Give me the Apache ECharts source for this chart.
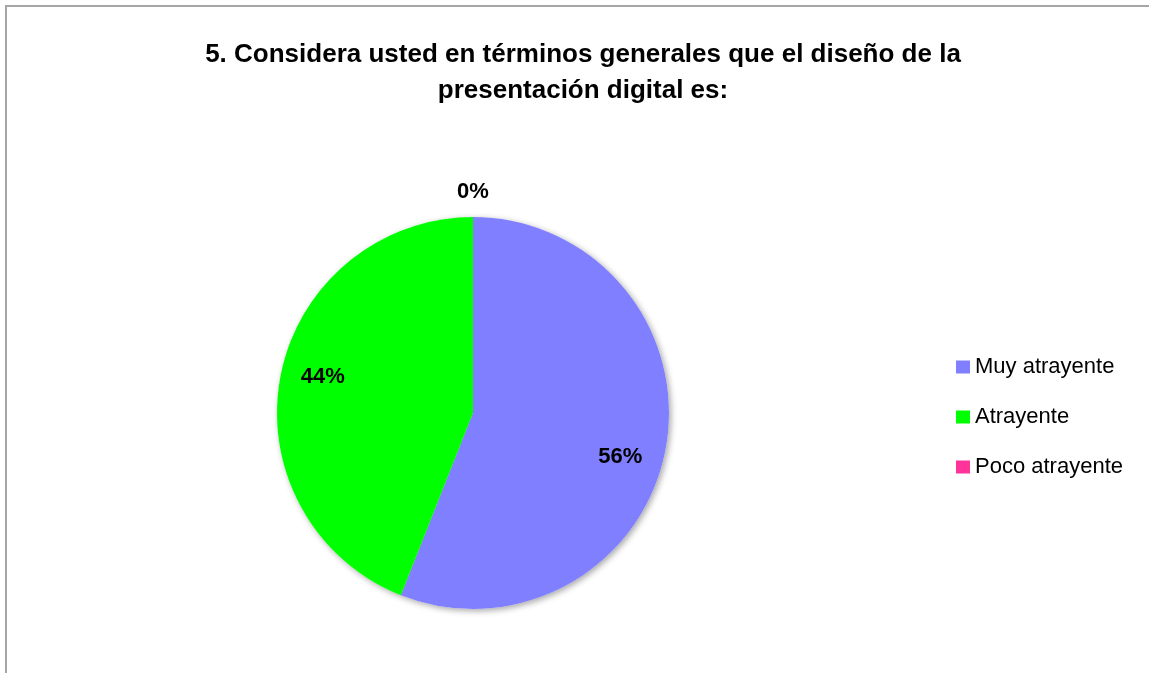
<!DOCTYPE html>
<html>
<head>
<meta charset="utf-8">
<title>Diseño de la presentación digital</title>
<script src="https://cdn.jsdelivr.net/npm/echarts@6/dist/echarts.min.js"></script>
<style>
  html, body { margin: 0; padding: 0; background: #ffffff; }
  #chart { width: 1149px; height: 673px; }
</style>
</head>
<body>
<div id="chart"></div>
<script>
// Survey question 5: overall rating of the digital presentation design
const titleLines = [
  '5. Considera usted en términos generales que el diseño de la',
  'presentación digital es:'
];
const categories = ['Muy atrayente', 'Atrayente', 'Poco atrayente'];
const percents = [56, 44, 0];
const colors = ['#7F7FFF', '#00FF00', '#FF3399'];
// nudges so the value labels sit where the best-fit placement puts them
const labelOffsets = [[-5, 15], [2, -7], [0, -66]];

const FONT = '"Liberation Sans Narrow", "Liberation Sans", Arial, sans-serif';
const CENTER = [473, 413];
const RADIUS = 196;

const sliceData = categories.map((name, i) => ({
  name: name,
  value: percents[i],
  itemStyle: { color: colors[i] }
}));

const labelData = categories.map((name, i) => ({
  name: name,
  value: percents[i],
  label: { offset: labelOffsets[i] }
}));

const chart = echarts.init(document.getElementById('chart'), null, { renderer: 'canvas' });

chart.setOption({
  backgroundColor: '#ffffff',
  animation: false,
  title: {
    text: titleLines.join('\n'),
    left: 578,
    top: 32,
    textAlign: 'center',
    textStyle: {
      fontFamily: FONT,
      fontWeight: 'bold',
      fontSize: 26,
      lineHeight: 36,
      color: '#000000'
    }
  },
  legend: {
    orient: 'vertical',
    left: 951,
    top: 351,
    itemWidth: 14,
    itemHeight: 13,
    itemGap: 28,
    icon: 'rect',
    selectedMode: false,
    data: categories.map((name, i) => ({ name: name, itemStyle: { color: colors[i] } })),
    textStyle: { fontFamily: FONT, fontSize: 22, color: '#000000' }
  },
  graphic: [{
    type: 'rect',
    shape: { x: 6, y: 6, width: 1300, height: 800 },
    style: { fill: 'none', stroke: '#a6a6a6', lineWidth: 2 },
    silent: true,
    z: 0
  }],
  series: [
    {
      // coloured slices
      name: 'Diseño',
      type: 'pie',
      z: 3,
      center: CENTER,
      radius: RADIUS,
      startAngle: 90,
      clockwise: true,
      silent: true,
      label: { show: false },
      labelLine: { show: false },
      data: sliceData
    },
    {
      // soft drop shadow underneath the pie
      name: 'Sombra',
      type: 'pie',
      z: 2,
      center: CENTER,
      radius: RADIUS,
      startAngle: 90,
      clockwise: true,
      silent: true,
      legendHoverLink: false,
      itemStyle: {
        color: '#ffffff',
        shadowBlur: 6,
        shadowColor: 'rgba(0,0,0,0.35)',
        shadowOffsetX: 2,
        shadowOffsetY: 2
      },
      label: { show: false },
      labelLine: { show: false },
      data: percents.map((v, i) => ({ name: categories[i], value: v }))
    },
    {
      // percentage labels
      name: 'Etiquetas',
      type: 'pie',
      z: 4,
      center: CENTER,
      radius: [108, RADIUS],
      startAngle: 90,
      clockwise: true,
      silent: true,
      legendHoverLink: false,
      itemStyle: { color: 'rgba(0,0,0,0)' },
      label: {
        show: true,
        position: 'inside',
        formatter: '{c}%',
        fontFamily: FONT,
        fontWeight: 'bold',
        fontSize: 22,
        color: '#000000'
      },
      labelLine: { show: false },
      data: labelData
    }
  ]
});
</script>
</body>
</html>
